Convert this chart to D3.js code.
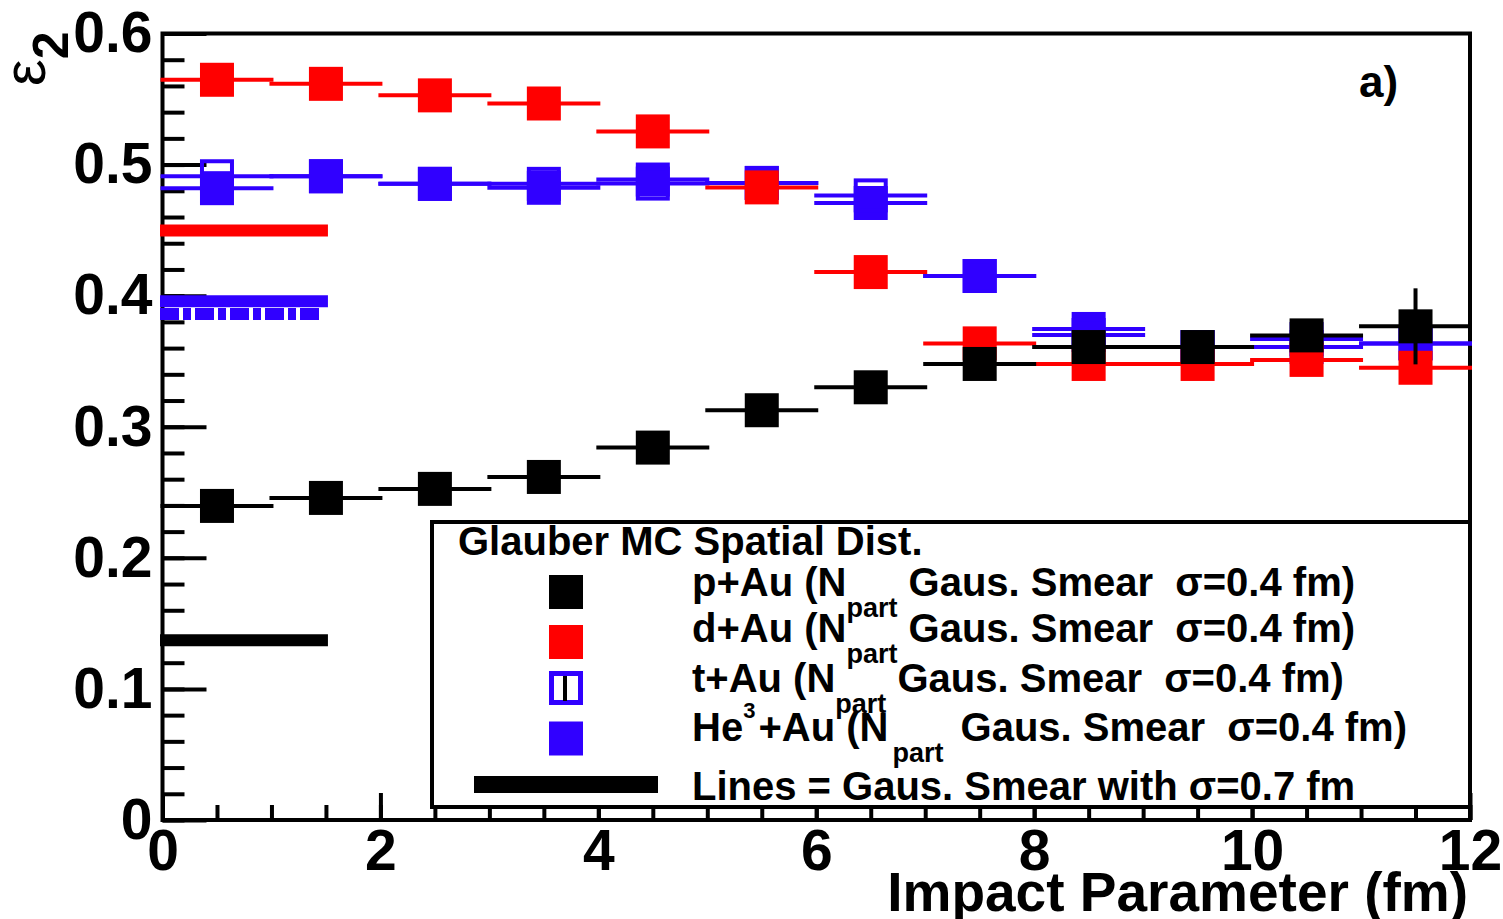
<!DOCTYPE html>
<html>
<head>
<meta charset="utf-8">
<script src="https://cdn.jsdelivr.net/npm/d3@7/dist/d3.min.js"></script>
<style>
  html, body { margin: 0; padding: 0; background: #fff; }
  svg { display: block; }
  text { font-family: "Liberation Sans", Arial, Helvetica, sans-serif; font-weight: bold; white-space: pre; }
</style>
</head>
<body>
<svg id="chart" width="1503" height="919"></svg>
<script>
// ---- data: eccentricity epsilon_2 vs impact parameter, 1 fm bins ----
const binCenters = [0.5, 1.5, 2.5, 3.5, 4.5, 5.5, 6.5, 7.5, 8.5, 9.5, 10.5, 11.5];
const binHalfWidth = 0.5;

// Glauber MC, Gaussian smearing sigma = 0.4 fm
const pAu   = [0.2396, 0.2457, 0.2526, 0.2617, 0.2841, 0.3126, 0.3301, 0.3479, 0.3608, 0.3608, 0.3697, 0.3766];
const pAuErr = [0, 0, 0, 0, 0, 0, 0, 0, 0, 0, 0, 0.029];
const dAu   = [0.5647, 0.5616, 0.5528, 0.5466, 0.5253, 0.4826, 0.4180, 0.3636, 0.3479, 0.3479, 0.3510, 0.3450];
const tAu   = [0.4911, 0.4911, 0.4853, 0.4853, 0.4855, 0.4860, 0.4765, 0.4150, 0.3700, 0.3608, 0.3608, 0.3636];
const he3Au = [0.4820, 0.4911, 0.4853, 0.4823, 0.4886, 0.4860, 0.4707, 0.4150, 0.3746, 0.3608, 0.3669, 0.3636];

// Gaussian smearing sigma = 0.7 fm, drawn as level lines over b = 0 .. 1.5 fm
const smearRange = [0, 1.5];
const smearSeries = ["pAu", "dAu", "tAu", "he3Au"];
const smearValues = [0.1372, 0.4498, 0.3861, 0.3957];

// axis ticks
const xMajorTicks = [0, 2, 4, 6, 8, 10, 12];
const xTickLabels = ["0", "2", "4", "6", "8", "10", "12"];
const xMinorTicks = d3.range(0, 12.001, 0.5);
const yMajorTicks = [0, 0.1, 0.2, 0.3, 0.4, 0.5, 0.6];
const yTickLabels = ["0", "0.1", "0.2", "0.3", "0.4", "0.5", "0.6"];
const yMinorTicks = d3.range(0, 0.6001, 0.02);

// legend text
const legendTitle = "Glauber MC Spatial Dist.";

// ---- styling ----
const RED = "#ff0000", BLUE = "#3000ff", BLACK = "#000000";
const MARK = 34;           // marker box size (px)
const ERR_W = 4;           // error-bar stroke width
const LINE_W = 12;         // sigma = 0.7 fm level-line width

const svg = d3.select("#chart");
const plot = { x0: 162.5, x1: 1470, y0: 33.5, y1: 820 };

const x = d3.scaleLinear().domain([0, 12]).range([plot.x0, plot.x1]);
const y = d3.scaleLinear().domain([0, 0.6]).range([plot.y1, plot.y0]);

// ---- frame ----
svg.append("rect")
  .attr("x", plot.x0).attr("y", plot.y0)
  .attr("width", plot.x1 - plot.x0).attr("height", plot.y1 - plot.y0)
  .attr("fill", "none").attr("stroke", BLACK).attr("stroke-width", 4);

// ---- axes (ticks pointing inward) ----
function styleAxis(g) {
  g.select(".domain").remove();
  g.selectAll(".tick line").attr("stroke", BLACK).attr("stroke-width", 4);
  g.selectAll(".tick text").attr("fill", BLACK).style("font-size", "57px")
    .style("font-family", "'Liberation Sans', Arial, sans-serif").style("font-weight", "bold");
}

svg.append("g").attr("transform", `translate(${plot.x0},0)`)
  .call(d3.axisLeft(y).tickValues(yMinorTicks).tickSize(-22).tickFormat(""))
  .call(styleAxis);
svg.append("g").attr("transform", `translate(${plot.x0},0)`)
  .call(d3.axisLeft(y).tickValues(yMajorTicks).tickSize(-44).tickPadding(10)
        .tickFormat((d, i) => yTickLabels[i]))
  .call(styleAxis);

svg.append("g").attr("transform", `translate(0,${plot.y1})`)
  .call(d3.axisBottom(x).tickValues(xMinorTicks).tickSize(-15).tickFormat(""))
  .call(styleAxis);
svg.append("g").attr("transform", `translate(0,${plot.y1})`)
  .call(d3.axisBottom(x).tickValues(xMajorTicks).tickSize(-27).tickPadding(10)
        .tickFormat((d, i) => xTickLabels[i]))
  .call(styleAxis);

// ---- sigma = 0.7 fm level lines ----
const smearStyle = {
  pAu:   { color: BLACK, dash: null },
  dAu:   { color: RED,   dash: null },
  tAu:   { color: BLUE,  dash: "19,4,8,4" },
  he3Au: { color: BLUE,  dash: null }
};
svg.append("g").selectAll("line")
  .data(smearSeries.map((s, i) => ({ s, v: smearValues[i] })))
  .join("line")
  .attr("x1", x(smearRange[0]) - 2.5).attr("x2", d => x(smearRange[1]) + (smearStyle[d.s].dash ? -3 : 2))
  .attr("y1", d => y(d.v)).attr("y2", d => y(d.v))
  .attr("stroke", d => smearStyle[d.s].color)
  .attr("stroke-width", LINE_W)
  .attr("stroke-dasharray", d => smearStyle[d.s].dash);

// ---- data series with bin-width error bars ----
function drawSeries(values, errs, color, open) {
  const g = svg.append("g");
  const pts = binCenters.map((c, i) => ({ c, v: values[i], e: errs ? errs[i] : 0 }));
  const half = MARK / 2;
  // horizontal bars: bin edge to marker edge on each side
  g.selectAll("line.xl").data(pts).join("line").attr("class", "xl")
    .attr("x1", d => x(d.c - binHalfWidth)).attr("x2", d => x(d.c) - half)
    .attr("y1", d => y(d.v)).attr("y2", d => y(d.v))
    .attr("stroke", color).attr("stroke-width", ERR_W).attr("stroke-linecap", "square");
  g.selectAll("line.xr").data(pts).join("line").attr("class", "xr")
    .attr("x1", d => x(d.c) + half).attr("x2", d => x(d.c + binHalfWidth))
    .attr("y1", d => y(d.v)).attr("y2", d => y(d.v))
    .attr("stroke", color).attr("stroke-width", ERR_W).attr("stroke-linecap", "square");
  // vertical statistical errors
  g.selectAll("line.ey").data(pts.filter(d => d.e > 0)).join("line").attr("class", "ey")
    .attr("x1", d => x(d.c)).attr("x2", d => x(d.c))
    .attr("y1", d => y(d.v + d.e)).attr("y2", d => y(d.v - d.e))
    .attr("stroke", color).attr("stroke-width", ERR_W);
  // markers
  if (open) {
    g.selectAll("rect").data(pts).join("rect")
      .attr("x", d => x(d.c) - half + 2).attr("y", d => y(d.v) - half + 2)
      .attr("width", MARK - 4).attr("height", MARK - 4)
      .attr("fill", "none").attr("stroke", color).attr("stroke-width", 4);
  } else {
    g.selectAll("rect").data(pts).join("rect")
      .attr("x", d => x(d.c) - half).attr("y", d => y(d.v) - half)
      .attr("width", MARK).attr("height", MARK)
      .attr("fill", color);
  }
}

drawSeries(he3Au, null, BLUE, false);
drawSeries(tAu, null, BLUE, true);
drawSeries(dAu, null, RED, false);
drawSeries(pAu, pAuErr, BLACK, false);

// ---- panel label ----
svg.append("text").attr("x", 1359).attr("y", 97).style("font-size", "44px").text("a)");

// ---- axis titles ----
svg.append("text").attr("x", 1468).attr("y", 911).attr("text-anchor", "end")
  .style("font-size", "55px").text("Impact Parameter (fm)");

const yTitle = svg.append("text").attr("transform", "translate(45,86) rotate(-90)")
  .style("font-size", "60px").style("font-weight", "normal");
yTitle.append("tspan").text("ε");
yTitle.append("tspan").attr("dy", 23).style("font-size", "50px").style("font-weight", "bold").text("2");

// ---- legend ----
const leg = { x0: 432, y0: 522, x1: 1470, y1: 807 };
svg.append("rect")
  .attr("x", leg.x0).attr("y", leg.y0)
  .attr("width", leg.x1 - leg.x0).attr("height", leg.y1 - leg.y0)
  .attr("fill", "#fff").attr("stroke", BLACK).attr("stroke-width", 4);

svg.append("text").attr("x", 458).attr("y", 555).style("font-size", "40px").text(legendTitle);

const legendRows = [
  { base: 596, kind: "fill", color: BLACK,
    segs: [{ t: "p+Au (N" }, { t: "part", dy: 21, size: 27 }, { t: " Gaus. Smear  σ=0.4 fm)", dy: -21 }] },
  { base: 642, kind: "fill", color: RED,
    segs: [{ t: "d+Au (N" }, { t: "part", dy: 21, size: 27 }, { t: " Gaus. Smear  σ=0.4 fm)", dy: -21 }] },
  { base: 692, kind: "open", color: BLUE,
    segs: [{ t: "t+Au (N" }, { t: "part", dy: 21, size: 27 }, { t: " Gaus. Smear  σ=0.4 fm)", dy: -21 }] },
  { base: 741, kind: "fill", color: BLUE,
    segs: [{ t: "He" }, { t: "3", dy: -23, size: 22 }, { t: "+Au (N", dy: 23, dx: 3 },
           { t: "part", dy: 21, size: 27, dx: 4 }, { t: " Gaus. Smear  σ=0.4 fm)", dy: -21, dx: 6 }] },
  { base: 800, kind: "line", color: BLACK,
    segs: [{ t: "Lines = Gaus. Smear with σ=0.7 fm" }] }
];
const legendMarkY = [592, 642, 688, 738.5, 784.5];

legendRows.forEach((r, i) => {
  const t = svg.append("text").attr("x", 692).attr("y", r.base).style("font-size", "40px");
  r.segs.forEach(s => {
    const sp = t.append("tspan").text(s.t);
    if (s.dy) sp.attr("dy", s.dy);
    if (s.dx) sp.attr("dx", s.dx);
    if (s.size) sp.style("font-size", s.size + "px");
  });
  const cy = legendMarkY[i], cx = 566;
  if (r.kind === "fill") {
    svg.append("rect").attr("x", cx - MARK / 2).attr("y", cy - MARK / 2)
      .attr("width", MARK).attr("height", MARK).attr("fill", r.color);
  } else if (r.kind === "open") {
    svg.append("rect").attr("x", cx - MARK / 2 + 2.5).attr("y", cy - MARK / 2 + 2.5)
      .attr("width", MARK - 5).attr("height", MARK - 5)
      .attr("fill", "none").attr("stroke", r.color).attr("stroke-width", 5);
    svg.append("line").attr("x1", cx - 1).attr("x2", cx - 1)
      .attr("y1", cy - 12).attr("y2", cy + 13)
      .attr("stroke", BLACK).attr("stroke-width", 4);
  } else {
    svg.append("line").attr("x1", 474).attr("x2", 658)
      .attr("y1", cy).attr("y2", cy)
      .attr("stroke", r.color).attr("stroke-width", 17);
  }
});
</script>
</body>
</html>
